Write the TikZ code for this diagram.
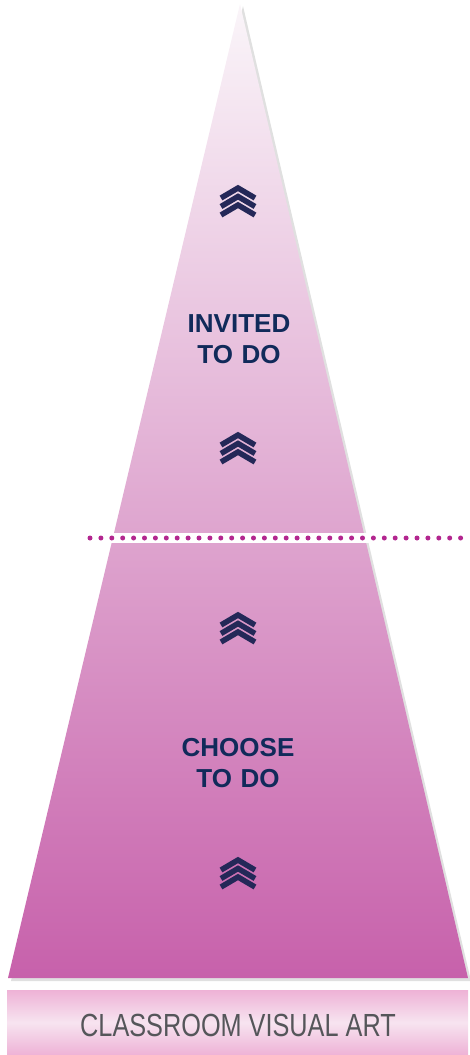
\documentclass[tikz,border=0pt]{standalone}
\usepackage{fontspec}
\setmainfont{Liberation Sans}
\usepackage{tikz}
\usetikzlibrary{positioning}
\definecolor{navy}{HTML}{112A5A}
\definecolor{chevcol}{HTML}{242858}
\definecolor{pyrtop}{HTML}{FAF5F9}
\definecolor{pyrbot}{HTML}{C761AB}
\definecolor{dotcol}{HTML}{B3268F}
\definecolor{barpink}{HTML}{EEB2D6}
\definecolor{barlight}{HTML}{F7E4F0}
\definecolor{bartext}{HTML}{55565A}
\tikzstyle{level} = [text width=4cm, align=center, text=navy, font=\fontsize{26}{31}\selectfont\bfseries]
\tikzstyle{chev} = [draw=chevcol, line width=5.5pt, miter limit=10]
\tikzstyle{base} = [text=bartext, font=\fontsize{32}{36}\selectfont]

\begin{document}
\begin{tikzpicture}[x=1pt, y=-1pt]
    \useasboundingbox (0,0) rectangle (470,1055);

    % pyramid
    \fill[black!12] (243,6) -- (471,981) -- (11,981) -- cycle;
    \shade[top color=pyrtop, bottom color=pyrbot] (240,4) -- (468,978) -- (8,978) -- cycle;
    \fill[white] (60,533) rectangle (470,543);
    \draw[dotcol, line width=5pt, line cap=round, dash pattern=on 0pt off 10.9pt] (90,538) -- (470,538);

    \node(invited)[level] at (239,339) {INVITED\\ TO DO};
    \node(choose)[level] at (238,763) {CHOOSE\\ TO DO};

    \foreach \y in {201,448,628,873}
        \foreach \k in {0,1,2}
            \draw[chev] (221,\y-3+8.5*\k) -- (238,\y-13+8.5*\k) -- (255,\y-3+8.5*\k);

    % base bar
    \shade[top color=barpink, bottom color=barpink, middle color=barlight] (7,990) rectangle (468,1055);
    \node(art)[base] at (238,1025) {\scalebox{0.79}[1]{CLASSROOM VISUAL ART}};

\end{tikzpicture}
\end{document}
